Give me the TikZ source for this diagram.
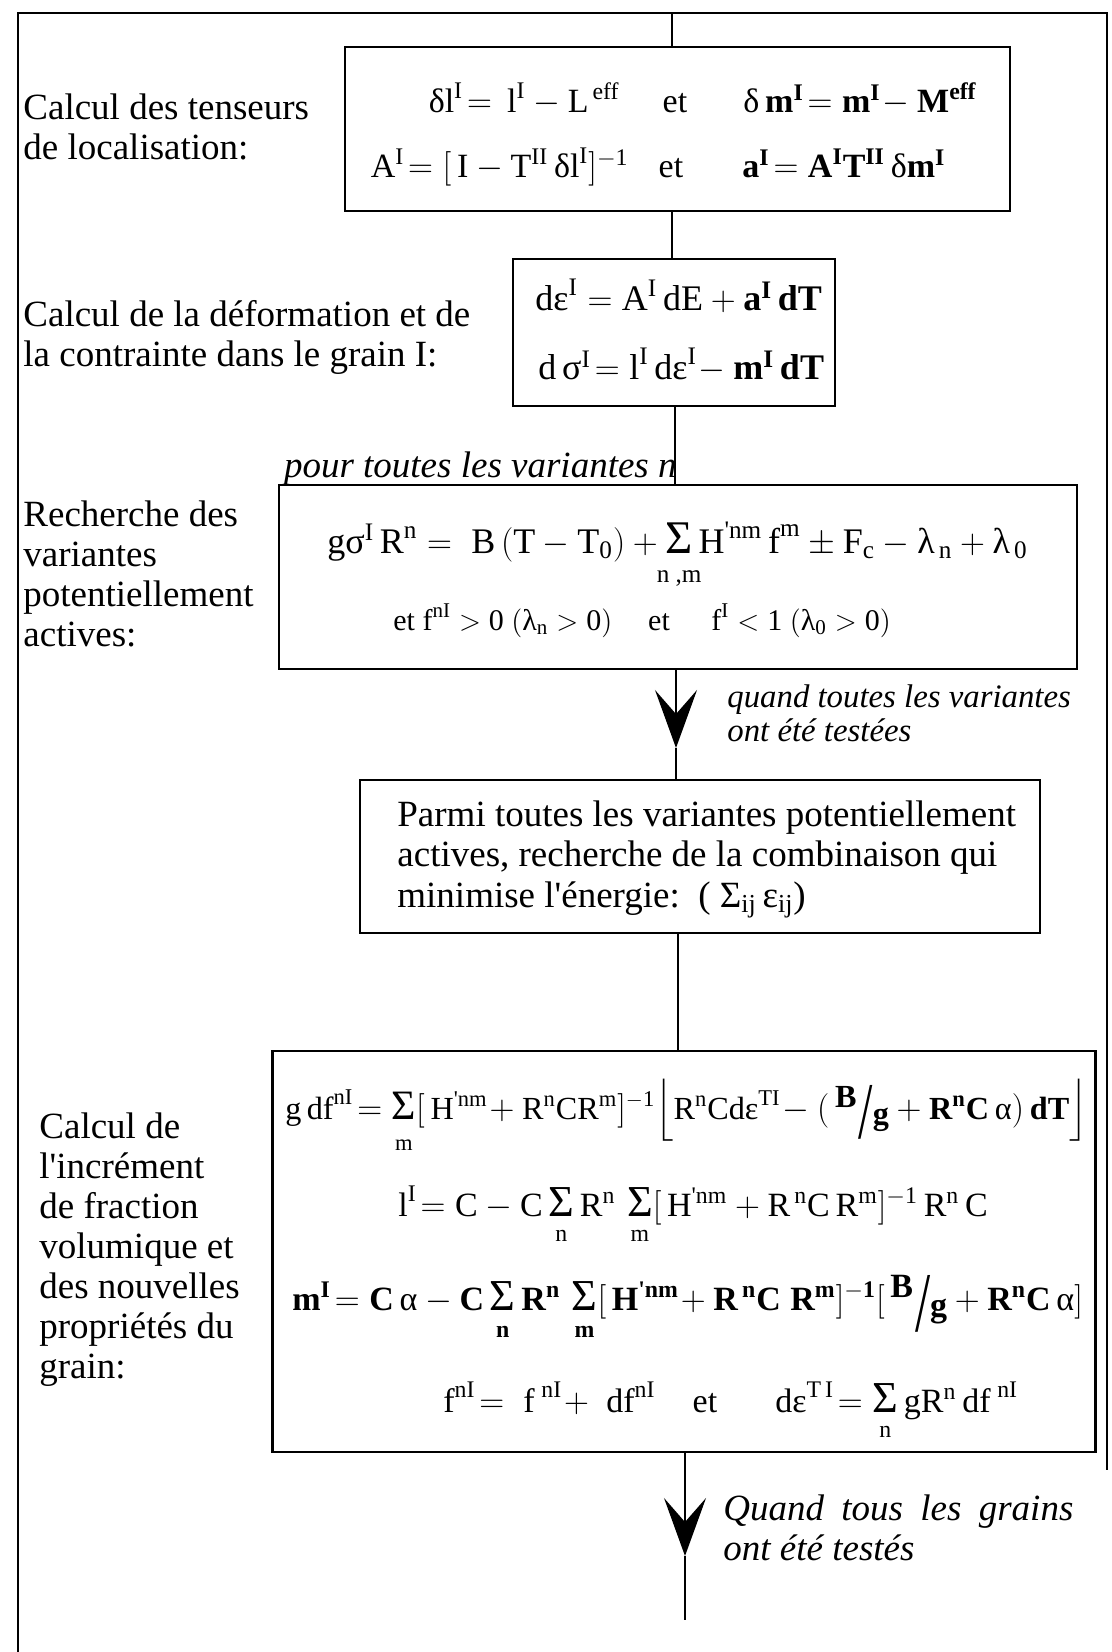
\documentclass[tikz,border=0pt]{standalone}
\usepackage{amsmath}
\usepackage{graphicx}
\usepackage{fontspec}
\setmainfont{Liberation Serif}
\newfontfamily\apfont{Liberation Serif}
\usetikzlibrary{arrows.meta}
\newcommand{\ap}{{\apfont'}}
\newcommand{\tx}[1]{\text{#1}}
\newcommand{\bx}[1]{\text{\bfseries #1}}
\newcommand{\myclap}[1]{\makebox[0pt]{$\scriptstyle #1$}}
\newcommand{\sumop}[2][13pt]{\mathop{\hbox{\scalebox{1.3}{Σ}}}\limits_{\myclap{\vrule height #1 width 0pt depth 0pt #2}}}
\newcommand{\Bg}{\bx{\raisebox{0.36em}{B}}\mkern1mu\smash{\raisebox{-0.62em}{\tx{\scalebox{1.6}[2.5]{/}}}}\mkern0mu\bx{\raisebox{-0.18em}{g}}}
\newcommand{\mylines}[1]{\begin{tabular}[t]{@{}l@{}}#1\end{tabular}}
\tikzset{
  boxst/.style={draw, line width=1.2pt, inner sep=0pt},
  conn/.style={line width=0.8pt},
  framest/.style={line width=0.7pt},
  lab/.style={anchor=base west, inner sep=0pt, font=\fontsize{18.5}{20}\selectfont},
  eqn/.style={inner sep=0pt, anchor=base},
  arr/.style={-{Stealth[length=29pt,width=21pt,inset=12pt]}},
  f17/.style={font=\fontsize{17}{20}\selectfont},
  f16/.style={font=\fontsize{16.1}{20}\selectfont},
  f18/.style={font=\fontsize{18}{20}\selectfont},
  f15/.style={font=\fontsize{15}{18}\selectfont}
}
\begin{document}
\begin{tikzpicture}[x=0.5pt,y=-0.5pt]
\useasboundingbox (0,0) rectangle (1112,1652);
\fill[white] (0,0) rectangle (1112,1652);
% outer frame
\draw[framest] (18,1652) -- (18,13) -- (1107,13) -- (1107,1470);

% boxes
\node[boxst, minimum width=332.5pt, minimum height=82pt] (b1) at (677.5,129) {};
\node[boxst, minimum width=161pt, minimum height=73.5pt] (b2) at (674,332.5) {};
\node[boxst, minimum width=399pt, minimum height=92pt] (b3) at (678,577) {};
\node[boxst, minimum width=340pt, minimum height=76.5pt] (b4) at (700,856.5) {};
\node[boxst, minimum width=411.5pt, minimum height=200.5pt] (b5) at (684,1251.5) {};

% connector coordinates
\coordinate (top) at (672,13);
\coordinate (s2) at (675,0);
\coordinate (tip1) at (676,748);
\coordinate (s4) at (678,0);
\coordinate (tip2) at (685,1556);
\coordinate (bend) at (685,1620);

\draw[conn] (top) -- (top |- b1.north);
\draw[conn] (b1.south -| top) -- (b2.north -| top);
\draw[conn] (b2.south -| s2) -- (b3.north -| s2);
\draw[conn, arr] (b3.south -| tip1) -- (tip1);
\draw[conn] (tip1) -- (b4.north -| tip1);
\draw[conn] (b4.south -| s4) -- (b5.north -| s4);
\draw[conn, arr] (b5.south -| tip2) -- (tip2);
\draw[conn] (tip2) -- (bend);

% left labels
\node[lab] (l1) at (23,120) {\mylines{Calcul des tenseurs\\de localisation:}};
\node[lab] (l2) at (23,327) {\mylines{Calcul de la déformation et de\\la contrainte dans le grain I:}};
\node[lab] (l3) at (23,526) {\mylines{Recherche des\\variantes\\potentiellement\\actives:}};
\node[lab] (l5) at (39,1138) {\mylines{Calcul de\\l\ap incrément\\de fraction\\volumique et\\des nouvelles\\propriétés du\\grain:}};

% box 1
\node[eqn, f17, anchor=base east] (e1a) at (620,113) {$\tx{δl}^{\tx{I}}\!= \,\tx{l}^{\tx{I}} - \tx{L}^{\,\tx{eff}}$};
\node[eqn, f17] (e1et) at (675,113) {et};
\node[eqn, f17, anchor=base west] (e1b) at (743,113) {$\tx{δ}\,\bx{m}^{\bx{I}}\!= \bx{m}^{\bx{I}}\! - \bx{M}^{\bx{eff}}$};
\node[eqn, f17, anchor=base east] (e2a) at (629,178) {$\tx{A}^{\tx{I}}\!= [\,\tx{I} - \tx{T}^{\tx{II}}\,\tx{δl}^{\tx{I}}]^{-\tx{1}}$};
\node[eqn, f17] (e2et) at (671,178) {et};
\node[eqn, f17, anchor=base west] (e2b) at (742,178) {$\bx{a}^{\bx{I}}\!= \bx{A}^{\bx{I}}\bx{T}^{\bx{II}}\,\tx{δ}\bx{m}^{\bx{I}}$};

% box 2
\node[eqn, f18, anchor=base west] (e3) at (535,311) {$\tx{dε}^{\tx{I}} = \tx{A}^{\tx{I}}\,\tx{dE} + \bx{a}^{\bx{I}}\,\bx{dT}$};
\node[eqn, f18, anchor=base west] (e4) at (538,380) {$\tx{d}\,\tx{σ}^{\tx{I}}\! = \tx{l}^{\tx{I}}\,\tx{dε}^{\tx{I}}\! - \bx{m}^{\bx{I}}\,\bx{dT}$};

% box 3
\node[inner sep=0pt, anchor=base east, font=\itshape\fontsize{18.5}{20}\selectfont] (pour) at (677,477) {pour toutes les variantes n};
\node[eqn, f18, anchor=base west] (e5) at (327,553) {$\tx{gσ}^{\tx{I}}\,\tx{R}^{\tx{n}} = \;\tx{B}\,(\tx{T} - \tx{T}_{\tx{0}}) + \sumop[12pt]{\tx{n ,m}}\tx{H}^{\tx{\ap nm}}\,\tx{f}^{\tx{m}} \pm \tx{F}_{\tx{c}} - \tx{λ}_{\,\tx{n}} + \tx{λ}_{\,\tx{0}}$};
\node[eqn, f15, anchor=base west] (e6a) at (393,630) {et $\tx{f}^{\tx{nI}} > \tx{0}\ (\tx{λ}_{\tx{n}} > \tx{0})$};
\node[eqn, f15] (e6et) at (659,630) {et};
\node[eqn, f15, anchor=base west] (e6b) at (711,630) {$\tx{f}^{\tx{I}} < \tx{1}\ (\tx{λ}_{\tx{0}} > \tx{0})$};

% label after box 3
\node[inner sep=0pt, anchor=base west, font=\itshape\fontsize{16.4}{17}\selectfont] (q1) at (727,707) {\mylines{quand toutes les variantes\\ont été testées}};

% box 4
\node[inner sep=0pt, anchor=base west, font=\fontsize{18.5}{20.25}\selectfont] (t4) at (397,826) {\mylines{Parmi toutes les variantes potentiellement\\actives, recherche de la combinaison qui\\minimise l\ap énergie:~~( $\tx{Σ}_{\tx{ij}}\,\tx{ε}_{\tx{ij}}$)}};

% box 5
\node[eqn, f16, anchor=base west] (e7) at (285,1119) {$\tx{g\,df}^{\tx{nI}}\! = \sumop[13pt]{\tx{m}}[\,\tx{H}^{\tx{\ap nm}}\!+\tx{R}^{\tx{n}}\tx{CR}^{\tx{m}}]^{-\tx{1}}\!\left\lfloor\tx{R}^{\tx{n}}\tx{Cdε}^{\tx{TI}}\!-(\,\Bg+\bx{R}^{\bx{n}}\bx{C}\,\tx{α})\,\bx{dT}\right\rfloor$};
\node[eqn, f17, anchor=base west] (e8) at (398,1216) {$\tx{l}^{\tx{I}}\!= \tx{C} - \tx{C}\sumop[10pt]{\tx{n}}\tx{R}^{\tx{n}}\,\sumop[10pt]{\tx{m}}[\,\tx{H}^{\tx{\ap nm}} + \tx{R}^{\,\tx{n}}\tx{C}\,\tx{R}^{\tx{m}}]^{-\tx{1}}\,\tx{R}^{\tx{n}}\,\tx{C}$};
\node[eqn, f17, anchor=base west] (e9) at (292,1310) {$\bx{m}^{\bx{I}}\!= \bx{C}\,\tx{α} - \bx{C}\sumop[11pt]{\bx{n}}\bx{R}^{\bx{n}}\,\sumop[11pt]{\bx{m}}[\,\bx{H}^{\bx{\ap nm}}\!+\bx{R}^{\,\bx{n}}\bx{C}\;\bx{R}^{\bx{m}}]^{-\bx{1}}[\,\Bg+\bx{R}^{\bx{n}}\bx{C}\,\tx{α}]$};
\node[eqn, f17, anchor=base west] (e10a) at (443,1412) {$\tx{f}^{\tx{nI}}\!= \;\tx{f}^{\;\tx{nI}}\!+\;\tx{df}^{\tx{nI}}$};
\node[eqn, f17] (e10et) at (705,1412) {et};
\node[eqn, f17, anchor=base west] (e10b) at (775,1412) {$\tx{dε}^{\tx{T\,I}}\!= \sumop[10pt]{\tx{n}}\tx{gR}^{\tx{n}}\,\tx{df}^{\;\tx{nI}}$};

% final label
\node[inner sep=0pt, anchor=base west, font=\itshape\fontsize{18.5}{20}\selectfont] (q2) at (723,1520) {\mylines{\makebox[175pt][s]{Quand tous les grains}\\ont été testés}};
\end{tikzpicture}
\end{document}
